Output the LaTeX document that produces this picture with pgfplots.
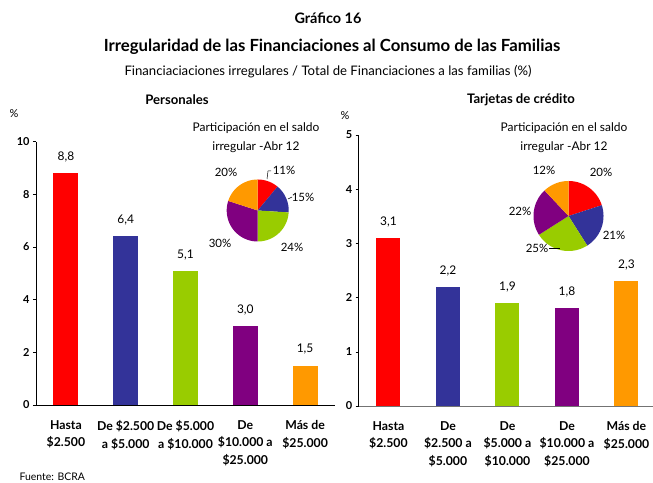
\documentclass[border=0pt]{standalone}
\usepackage{fontspec}
\setmainfont{Lato}
\usepackage{pgfplots}
\pgfplotsset{compat=1.18}
\definecolor{cRed}{HTML}{FF0000}
\definecolor{cBlue}{HTML}{333399}
\definecolor{cGreen}{HTML}{99CC00}
\definecolor{cPurple}{HTML}{800080}
\definecolor{cOrange}{HTML}{FF9900}
\begin{document}
\begin{tikzpicture}
\path[use as bounding box] (0,0) rectangle (653bp,483bp);
\pgfplotsset{
  barax/.style={
    scale only axis, anchor=south west,
    axis lines=left, axis line style={-, black, line width=0.8pt},
    xmin=-0.5, ymin=0,
    xtick={0,1,2,3,4},
    major x tick style={draw=none},
    tick align=outside, major tick length=3bp,
    ytick style={black, line width=0.6pt},
    /pgf/number format/assume math mode=true,
    yticklabel style={font=\fontsize{11}{12}\selectfont\bfseries},
    xticklabel style={align=center, font=\fontsize{12.3}{17.5}\selectfont\bfseries, yshift=-9bp},
    clip=false,
    every axis plot/.append style={ybar, bar shift=0pt, draw=none},
    nodes near coords={\pgfmathprintnumber[fixed, fixed zerofill, precision=1, use comma, assume math mode=true]{\pgfplotspointmeta}},
    every node near coord/.append style={font=\fontsize{12}{13}\selectfont, yshift=7.5bp},
  },
  pieax/.style={scale only axis, anchor=center, hide axis, xmin=-1, xmax=1, ymin=-1, ymax=1, clip=false},
}
% ---------- Personales ----------
\begin{axis}[barax, at={(36bp,78bp)}, width=299bp, height=263.3bp,
  xmax=4.5, ymax=10, ytick={0,2,4,6,8,10},
  xticklabels={Hasta\\\$2.500, De \$2.500\\a \$5.000, De \$5.000\\a \$10.000, De\\\$10.000 a\\\$25.000, Más de\\\$25.000},
  every axis plot/.append style={bar width=25bp}]
\addplot[fill=cRed] coordinates {(0,8.8)};
\addplot[fill=cBlue] coordinates {(1,6.4)};
\addplot[fill=cGreen] coordinates {(2,5.1)};
\addplot[fill=cPurple] coordinates {(3,3.0)};
\addplot[fill=cOrange] coordinates {(4,1.5)};
\end{axis}
% ---------- Tarjetas ----------
\begin{axis}[barax, at={(358.7bp,77bp)}, width=294.3bp, height=271bp,
  xmax=4.446, ymax=5, ytick={0,1,2,3,4,5},
  x axis line style={draw=black!55},
  xticklabels={Hasta\\\$2.500, De\\\$2.500 a\\\$5.000, De\\\$5.000 a\\\$10.000, De\\\$10.000 a\\\$25.000, Más de\\\$25.000},
  every axis plot/.append style={bar width=24bp}]
\addplot[fill=cRed] coordinates {(0,3.1)};
\addplot[fill=cBlue] coordinates {(1,2.2)};
\addplot[fill=cGreen] coordinates {(2,1.9)};
\addplot[fill=cPurple] coordinates {(3,1.8)};
\addplot[fill=cOrange] coordinates {(4,2.3)};
\end{axis}
% ---------- Pie Personales (11,15,24,30,20) ----------
\begin{axis}[pieax, at={(257.7bp,272.5bp)}, width=62bp, height=62bp]
\addplot[fill=cRed, draw=none, domain=50.4:90, samples=40] ({cos(x)},{sin(x)}) -- (axis cs:0,0) -- cycle;
\addplot[fill=cBlue, draw=none, domain=-3.6:50.4, samples=40] ({cos(x)},{sin(x)}) -- (axis cs:0,0) -- cycle;
\addplot[fill=cGreen, draw=none, domain=-90:-3.6, samples=40] ({cos(x)},{sin(x)}) -- (axis cs:0,0) -- cycle;
\addplot[fill=cPurple, draw=none, domain=-198:-90, samples=40] ({cos(x)},{sin(x)}) -- (axis cs:0,0) -- cycle;
\addplot[fill=cOrange, draw=none, domain=-270:-198, samples=40] ({cos(x)},{sin(x)}) -- (axis cs:0,0) -- cycle;
\end{axis}
% ---------- Pie Tarjetas (20,21,25,22,12) ----------
\begin{axis}[pieax, at={(568.5bp,267bp)}, width=70bp, height=70bp]
\addplot[fill=cRed, draw=none, domain=18:90, samples=40] ({cos(x)},{sin(x)}) -- (axis cs:0,0) -- cycle;
\addplot[fill=cBlue, draw=none, domain=-57.6:18, samples=40] ({cos(x)},{sin(x)}) -- (axis cs:0,0) -- cycle;
\addplot[fill=cGreen, draw=none, domain=-147.6:-57.6, samples=40] ({cos(x)},{sin(x)}) -- (axis cs:0,0) -- cycle;
\addplot[fill=cPurple, draw=none, domain=-226.8:-147.6, samples=40] ({cos(x)},{sin(x)}) -- (axis cs:0,0) -- cycle;
\addplot[fill=cOrange, draw=none, domain=-270:-226.8, samples=40] ({cos(x)},{sin(x)}) -- (axis cs:0,0) -- cycle;
\end{axis}
% ---------- Texts ----------
\node[font=\fontsize{14.5}{16}\selectfont\bfseries] at (328bp,465bp) {Gráfico 16};
\node[font=\fontsize{16.8}{18}\selectfont\bfseries] at (332bp,436bp) {Irregularidad de las Financiaciones al Consumo de las Familias};
\node[font=\fontsize{13.2}{15}\selectfont] at (328bp,411bp) {Financiaciaciones irregulares / Total de Financiaciones a las familias (\%)};
\node[font=\fontsize{13.2}{15}\selectfont\bfseries] at (177bp,383bp) {Personales};
\node[font=\fontsize{13.2}{15}\selectfont\bfseries] at (521bp,383bp) {Tarjetas de crédito};
\node[font=\fontsize{11}{12}\selectfont] at (14bp,369bp) {\%};
\node[font=\fontsize{11}{12}\selectfont] at (345bp,367bp) {\%};
\node[font=\fontsize{12}{13}\selectfont] at (256bp,355bp) {Participación en el saldo};
\node[font=\fontsize{12}{13}\selectfont] at (256bp,336bp) {irregular -Abr 12};
\node[font=\fontsize{12}{13}\selectfont] at (564bp,355bp) {Participación en el saldo};
\node[font=\fontsize{12}{13}\selectfont] at (564bp,336bp) {irregular -Abr 12};
% pie labels left
\node[font=\fontsize{11.5}{12}\selectfont] at (284bp,313bp) {11\%};
\node[font=\fontsize{11.5}{12}\selectfont] at (303bp,286bp) {15\%};
\node[font=\fontsize{11.5}{12}\selectfont] at (292bp,236bp) {24\%};
\node[font=\fontsize{11.5}{12}\selectfont] at (220bp,240bp) {30\%};
\node[font=\fontsize{11.5}{12}\selectfont] at (226bp,311bp) {20\%};
\draw[line width=0.5pt] (267bp,304bp) -- (268bp,312bp) -- (271bp,312bp);
\draw[line width=0.5pt] (288bp,284bp) -- (292bp,286bp);
% pie labels right
\node[font=\fontsize{11.5}{12}\selectfont] at (601bp,311bp) {20\%};
\node[font=\fontsize{11.5}{12}\selectfont] at (614bp,248bp) {21\%};
\node[font=\fontsize{11.5}{12}\selectfont] at (537bp,235bp) {25\%};
\node[font=\fontsize{11.5}{12}\selectfont] at (520bp,272bp) {22\%};
\node[font=\fontsize{11.5}{12}\selectfont] at (544bp,313bp) {12\%};
\draw[line width=0.5pt] (549bp,235bp) -- (560bp,235bp);
\node[font=\fontsize{10.5}{12}\selectfont, anchor=west] at (16bp,6bp) {Fuente: BCRA};
\end{tikzpicture}
\end{document}
